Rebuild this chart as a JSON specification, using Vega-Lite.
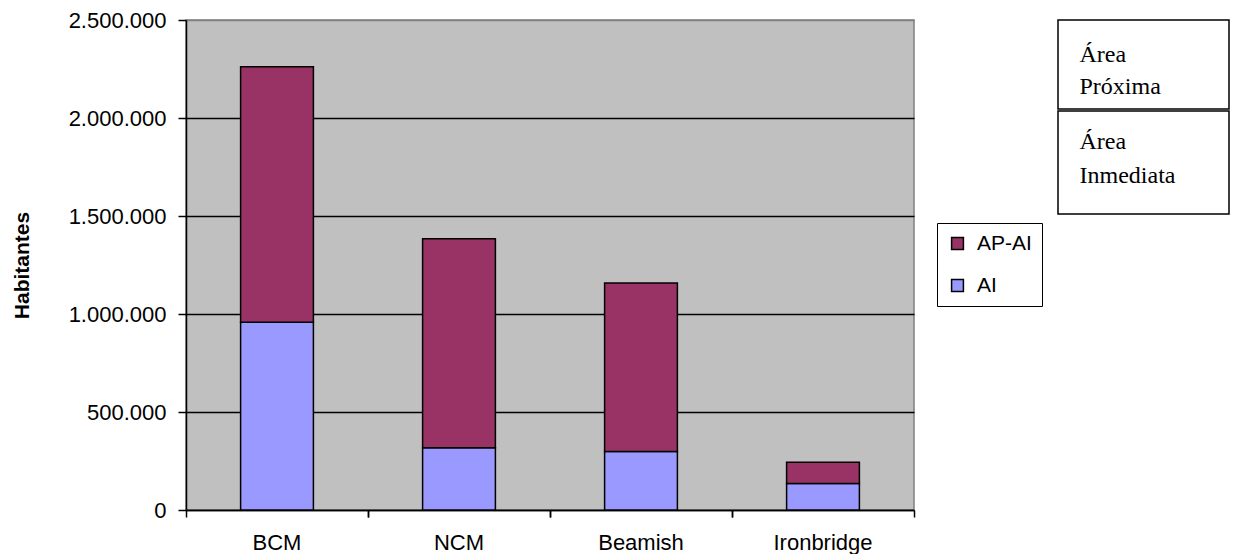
{
  "$schema": "https://vega.github.io/schema/vega-lite/v6.json",
  "background": "white",
  "padding": {"left": 10, "top": 8, "right": 0, "bottom": 0},
  "spacing": 141,
  "config": {
    "font": "Liberation Sans",
    "view": {"stroke": null},
    "locale": {"number": {"decimal": ",", "thousands": ".", "grouping": [3], "currency": ["", ""]}}
  },
  "hconcat": [
    {
      "width": 728,
      "height": 490,
      "view": {"fill": "#C0C0C0", "stroke": "#808080", "strokeWidth": 1.5},
      "data": {
        "values": [
          {"site": "BCM", "serie": "AI", "hab": 958000},
          {"site": "BCM", "serie": "AP-AI", "hab": 1304000},
          {"site": "NCM", "serie": "AI", "hab": 318000},
          {"site": "NCM", "serie": "AP-AI", "hab": 1066000},
          {"site": "Beamish", "serie": "AI", "hab": 298000},
          {"site": "Beamish", "serie": "AP-AI", "hab": 860000},
          {"site": "Ironbridge", "serie": "AI", "hab": 135000},
          {"site": "Ironbridge", "serie": "AP-AI", "hab": 109000}
        ]
      },
      "encoding": {
        "y": {
          "field": "hab",
          "type": "quantitative",
          "stack": "zero",
          "scale": {"domain": [0, 2500000], "nice": false},
          "axis": {
            "title": "Habitantes",
            "titleFontSize": 21,
            "titleFontWeight": "bold",
            "titleColor": "black",
            "titlePadding": 36,
            "values": [0, 500000, 1000000, 1500000, 2000000, 2500000],
            "format": ",d",
            "grid": true,
            "gridColor": {"condition": {"test": "datum.value === 2500000", "value": "#808080"}, "value": "black"},
            "gridWidth": 1.3,
            "domainColor": "black",
            "domainWidth": 1.5,
            "tickColor": "black",
            "tickWidth": 1.5,
            "tickSize": 8,
            "labelFontSize": 22,
            "labelColor": "black",
            "labelPadding": 12
          }
        },
        "color": {
          "field": "serie",
          "type": "nominal",
          "scale": {"domain": ["AP-AI", "AI"], "range": ["#993366", "#9999FF"]},
          "legend": {
            "title": null,
            "orient": "none",
            "legendX": 751,
            "legendY": 203,
            "strokeColor": "black",
            "padding": 10,
            "symbolType": "square",
            "symbolSize": 140,
            "symbolStrokeColor": "black",
            "symbolStrokeWidth": 1.5,
            "symbolOpacity": 1,
            "labelFontSize": 21,
            "labelColor": "black",
            "labelOffset": 9,
            "rowPadding": 20
          }
        },
        "order": {"field": "serie", "sort": "ascending"}
      },
      "layer": [
        {
          "mark": {"type": "bar", "stroke": "black", "strokeWidth": 1.5},
          "encoding": {
            "x": {
              "field": "site",
              "type": "nominal",
              "sort": ["BCM", "NCM", "Beamish", "Ironbridge"],
              "scale": {"paddingInner": 0.6, "paddingOuter": 0.3},
              "axis": {
                "title": null,
                "orient": "bottom",
                "labelAngle": 0,
                "bandPosition": -0.75,
                "domainColor": "black",
                "domainWidth": 1.5,
                "tickColor": "black",
                "tickWidth": 1.5,
                "tickSize": 7,
                "labelFontSize": 22,
                "labelColor": "black",
                "labelPadding": 15
              }
            }
          }
        },
        {
          "mark": {"type": "bar", "opacity": 0},
          "encoding": {
            "x": {
              "field": "site",
              "type": "nominal",
              "sort": ["BCM", "NCM", "Beamish", "Ironbridge"],
              "axis": {
                "title": null,
                "orient": "bottom",
                "bandPosition": 1.75,
                "labels": false,
                "domain": false,
                "tickColor": "black",
                "tickWidth": 1.5,
                "tickSize": 7
              }
            }
          }
        }
      ],
      "resolve": {"axis": {"x": "independent"}}
    },
    {
      "spacing": 0,
      "vconcat": [
        {
          "width": 171,
          "height": 89,
          "view": {"fill": "white", "stroke": "black", "strokeWidth": 1.5},
          "data": {"values": [{"label": "Área\nPróxima"}]},
          "mark": {"type": "text", "align": "left", "baseline": "alphabetic", "font": "Liberation Serif", "fontSize": 24, "lineBreak": "\n", "lineHeight": 32, "color": "black", "dx": -64, "dy": -3},
          "encoding": {"text": {"field": "label"}}
        },
        {
          "width": 171,
          "height": 103,
          "view": {"fill": "white", "stroke": "black", "strokeWidth": 1.5},
          "data": {"values": [{"label": "Área\nInmediata"}]},
          "mark": {"type": "text", "align": "left", "baseline": "alphabetic", "font": "Liberation Serif", "fontSize": 24, "lineBreak": "\n", "lineHeight": 34, "color": "black", "dx": -64, "dy": -14},
          "encoding": {"text": {"field": "label"}}
        }
      ]
    }
  ]
}
